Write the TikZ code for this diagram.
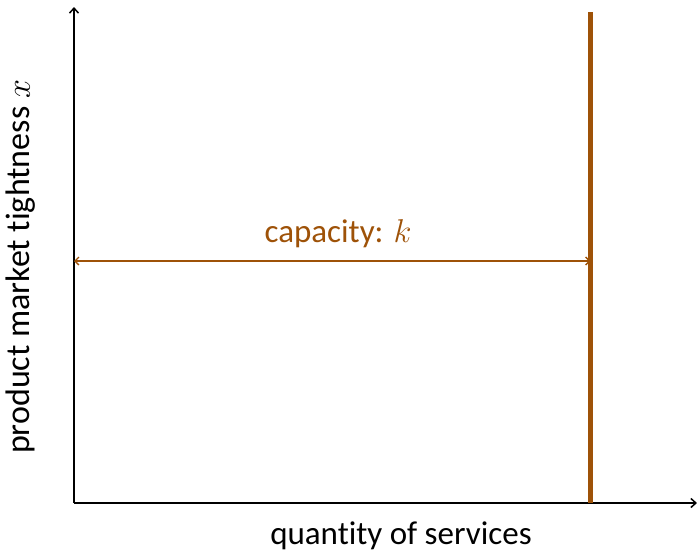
\RequirePackage{fix-cm}
\documentclass[tikz,border=0pt]{standalone}
\usepackage{fontspec}
\setmainfont{Carlito}[Ligatures=NoCommon]
\usetikzlibrary{arrows.meta}
\definecolor{capbrown}{RGB}{158,82,8}
\begin{document}
\begin{tikzpicture}[x=1pt,y=-1pt,
  axis/.style={line width=1.5pt,black,-{Straight Barb[length=5pt,width=9pt,line width=1.5pt]}},
  caparrow/.style={line width=1.3pt,capbrown,{Straight Barb[length=4pt,width=8pt,line width=1.3pt]}-{Straight Barb[length=4pt,width=8pt,line width=1.3pt]}},
  capline/.style={line width=5pt,capbrown},
  lbl/.style={font=\fontsize{33}{40}\selectfont,inner sep=0pt}]
\useasboundingbox (0,0) rectangle (697,552);
\coordinate (O) at (74,503);
\coordinate (ytop) at (74,7);
\coordinate (xend) at (697,503);
\coordinate (ktop) at (590.5,12);
\coordinate (kbot) at (590.5,503);
\coordinate (aL) at (74,261);
\coordinate (aR) at (590.5,261);
\draw[axis] (O) -- (ytop);
\draw[axis] (O) -- (xend);
\draw[capline] (kbot) -- (ktop);
\draw[caparrow] (aL) -- (aR);
\node[lbl,text=capbrown,anchor=base] (cap) at (338,242) {capacity: $k$};
\node[lbl,anchor=base] (xl) at (401,544) {quantity of services};
\node[lbl,font=\fontsize{34}{40}\selectfont,rotate=90] (yl) at (21,267) {product market tightness $x$};
\end{tikzpicture}
\end{document}
